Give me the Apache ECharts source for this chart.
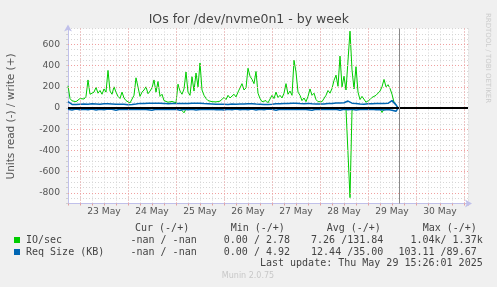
<!DOCTYPE html>
<html><head><meta charset="utf-8">
<script src="https://cdn.jsdelivr.net/npm/echarts@6/dist/echarts.min.js"></script>
<style>html,body{margin:0;padding:0;background:#f0f0f0;}#c{width:497px;height:287px;}</style>
</head><body><div id="c"></div>
<script>
// time axis: hours relative to 23 May 00:00
const startHour = -6;
const stepHours = 1;
const nowHour = 159.43;
const dayTicks = [0, 24, 48, 72, 96, 120, 144, 168, 192];
const dayLabels = ['23 May', '24 May', '25 May', '26 May', '27 May', '28 May', '29 May', '30 May'];
const yMajorTicks = [-800, -600, -400, -200, 0, 200, 400, 600];

// IO/sec write (+)
const ioWrite = [210,90,68,72,60,48,90,100,85,110,
 265,130,115,150,195,140,165,130,180,150,
 355,160,130,200,150,110,90,150,95,70,
 55,48,52,120,285,280,110,150,170,200,
 135,160,190,265,150,250,110,130,70,60,
 55,58,62,55,50,225,160,130,180,340,
 150,120,295,160,330,200,425,170,120,90,
 70,55,60,50,58,75,65,60,100,80,
 120,95,110,130,105,150,165,230,170,190,
 375,300,270,230,345,140,90,60,55,70,
 50,60,120,90,150,100,120,95,140,230,
 130,160,120,450,340,150,120,70,95,60,
 110,180,120,140,80,60,50,60,45,120,
 165,140,185,260,310,205,490,200,300,170,
 180,725,360,180,390,150,80,110,95,55,
 45,80,100,95,120,130,160,200,270,200,
 220,185,130,55,40,5];
// IO/sec read (-)
const ioRead = [-3,-2,-4,-3,-2,-5,-3,-4,-2,-3,
 -5,-3,-2,-4,-3,-2,-3,-5,-4,-3,
 -2,-4,-5,-3,-2,-3,-2,-4,-6,-3,
 -5,-3,-4,-6,-3,-2,-3,-2,-4,-3,
 -2,-3,-4,-3,-5,-6,-4,-3,-2,-3,
 -2,-3,-4,-3,-5,-4,-3,-6,-45,-8,
 -2,-3,-4,-2,-3,-4,-5,-6,-8,-4,
 -3,-2,-3,-4,-2,-3,-5,-3,-2,-4,
 -3,-5,-4,-3,-2,-3,-4,-6,-3,-2,
 -4,-3,-5,-3,-2,-4,-3,-2,-3,-5,
 -3,-4,-2,-3,-5,-3,-4,-2,-3,-4,
 -2,-3,-4,-6,-3,-2,-4,-3,-2,-3,
 -4,-3,-2,-5,-3,-2,-3,-4,-3,-2,
 -3,-4,-5,-3,-6,-4,-8,-5,-6,-10,
 -15,-845,-20,-6,-4,-3,-2,-3,-4,-3,
 -2,-3,-4,-3,-5,-4,-8,-42,-10,-5,
 -4,-3,-5,-6,-4,-2];
// Req Size (KB) write (+)
const reqWrite = [60,42,34,32,33,35,36,34,37,38,
 36,38,40,37,39,38,36,40,41,38,
 40,42,39,37,36,38,35,34,36,33,
 32,34,33,36,38,42,44,45,43,44,
 46,44,45,47,46,44,45,43,44,42,
 40,41,43,42,44,45,43,46,44,45,
 44,46,45,47,46,44,45,43,42,41,
 40,39,38,37,36,38,35,34,36,33,
 34,36,38,37,35,36,38,40,39,41,
 40,42,41,39,38,37,36,34,33,32,
 34,33,36,38,40,42,41,43,44,42,
 44,46,45,47,45,44,42,43,41,42,
 44,42,40,41,38,36,37,35,38,40,
 42,44,43,45,47,44,48,46,50,60,
 66,52,46,44,42,40,38,37,36,38,
 40,42,41,43,42,44,43,42,44,43,
 45,44,70,60,30,2];
// Req Size (KB) read (-)
const reqRead = [-12,-14,-18,-12,-10,-14,-16,-12,-11,-13,
 -15,-12,-10,-14,-18,-12,-11,-13,-16,-12,
 -10,-14,-12,-15,-20,-12,-11,-13,-14,-16,
 -12,-10,-14,-12,-13,-18,-14,-12,-11,-13,
 -15,-12,-20,-14,-12,-16,-13,-11,-12,-18,
 -14,-12,-13,-15,-12,-11,-20,-14,-12,-13,
 -16,-12,-11,-14,-18,-12,-13,-15,-12,-22,
 -14,-12,-11,-13,-16,-12,-14,-12,-18,-13,
 -12,-14,-17,-12,-10,-14,-16,-12,-11,-13,
 -15,-12,-10,-14,-19,-12,-11,-13,-16,-12,
 -10,-14,-12,-15,-20,-12,-11,-13,-14,-16,
 -12,-10,-14,-12,-13,-18,-14,-12,-11,-13,
 -15,-12,-21,-14,-12,-16,-13,-11,-12,-18,
 -14,-12,-13,-15,-12,-11,-20,-14,-12,-13,
 -16,-12,-11,-14,-18,-12,-13,-15,-12,-22,
 -14,-12,-11,-13,-16,-12,-14,-12,-18,-13,
 -14,-16,-20,-25,-30,-3];

const legendRows = [
  {name: 'IO/sec', color: '#00cc00', cur: '-nan / -nan', min: '0.00 / 2.78', avg: '7.26 /131.84', max: '1.04k/ 1.37k'},
  {name: 'Req Size (KB)', color: '#0066b3', cur: '-nan / -nan', min: '0.00 / 4.92', avg: '12.44 /35.00', max: '103.11 /89.67'}
];
const headers = ['Cur (-/+)', 'Min (-/+)', 'Avg (-/+)', 'Max (-/+)'];

function toXY(arr) { return arr.map((v, i) => [startHour + i * stepHours, v]); }

const mono = '10px "DejaVu Sans Mono"';
const txtCol = '#444';
const graphics = [];
function txt(x, y, s, align, font, fill, rot) {
  graphics.push({type: 'text', x: x, y: y, rotation: rot || 0, silent: true,
    style: {text: s, font: font || mono, fill: fill || txtCol, align: align || 'left', verticalAlign: 'middle'}});
}
const hdrX = [135, 230.7, 326.7, 422.7];
headers.forEach((h, i) => txt(hdrX[i], 228, h));
const rowY = [240, 252];
const maxRight = [482.7, 476.7];
legendRows.forEach((r, i) => {
  graphics.push({type: 'rect', shape: {x: 14, y: rowY[i] - 3, width: 6, height: 6}, style: {fill: r.color}, silent: true});
  txt(26, rowY[i], r.name);
  txt(196.7, rowY[i], r.cur, 'right');
  txt(290, rowY[i], r.min, 'right');
  txt(383.3, rowY[i], r.avg, 'right');
  txt(maxRight[i], rowY[i], r.max, 'right');
});
txt(482.7, 263.5, 'Last update: Thu May 29 15:26:01 2025', 'right');
txt(248, 276, 'Munin 2.0.75', 'center', '8px "DejaVu Sans"', '#c8c8c8');
txt(248.8, 19.5, 'IOs for /dev/nvme0n1 - by week', 'center', '12.5px "DejaVu Sans"', '#444');
txt(11, 116.5, 'Units read (-) / write (+)', 'center', '10.5px "DejaVu Sans"', '#555', Math.PI / 2);
txt(488, 58, 'RRDTOOL / TOBI OETIKER', 'center', '7px "DejaVu Sans"', '#cccccc', -Math.PI / 2);

const chart = echarts.init(document.getElementById('c'), null, {renderer: 'canvas'});
chart.setOption({
  animation: false,
  backgroundColor: '#f0f0f0',
  grid: {left: 68, right: 29, top: 28.5, bottom: 83.5, show: true, backgroundColor: '#ffffff', borderWidth: 0},
  xAxis: {
    type: 'value', min: -6, max: 194, interval: 6,
    axisLine: {show: true, onZero: false, lineStyle: {color: '#c0c0ea', width: 1}, symbol: ['none', 'arrow'], symbolSize: [6, 7], symbolOffset: [0, 4]},
    axisTick: {show: true, length: 2, lineStyle: {color: '#e0a0a0'}},
    splitLine: {show: true, lineStyle: {color: '#d6d6d6', type: [1, 2], width: 1}},
    axisLabel: {
      interval: 0, margin: 4, color: '#555', fontSize: 9.2, fontFamily: 'DejaVu Sans',
      formatter: v => { const d = (v - 12) / 24; return (Number.isInteger(d) && dayLabels[d]) ? dayLabels[d] : ''; }
    }
  },
  yAxis: {
    type: 'value', min: -900, max: 750, interval: 50,
    axisLine: {show: true, onZero: false, lineStyle: {color: '#c0c0ea', width: 1}, symbol: ['none', 'arrow'], symbolSize: [6, 7], symbolOffset: [0, 4]},
    axisTick: {show: true, length: 2, lineStyle: {color: '#d0d0d0'}},
    splitLine: {show: true, lineStyle: {color: '#d6d6d6', type: [1, 2], width: 1}},
    axisLabel: {
      interval: 0, margin: 8, color: '#555', fontSize: 9.2, fontFamily: 'DejaVu Sans',
      formatter: v => (yMajorTicks.indexOf(v) >= 0 ? String(v) : '')
    }
  },
  graphic: graphics,
  series: [
    {type: 'line', data: [], z: 1, silent: true,
      markLine: {silent: true, symbol: 'none', label: {show: false}, animation: false,
        lineStyle: {color: '#f0a0a0', type: [1, 2], width: 1},
        data: dayTicks.map(d => ({xAxis: d})).concat(yMajorTicks.map(v => ({yAxis: v})))}},
    {type: 'line', data: toXY(ioWrite), z: 3, symbol: 'none', lineStyle: {color: '#00cc00', width: 1}, silent: true},
    {type: 'line', data: toXY(ioRead), z: 3, symbol: 'none', lineStyle: {color: '#00cc00', width: 1}, silent: true},
    {type: 'line', data: toXY(reqWrite), z: 4, symbol: 'none', lineStyle: {color: '#0066b3', width: 1.5}, silent: true},
    {type: 'line', data: toXY(reqRead), z: 4, symbol: 'none', lineStyle: {color: '#0066b3', width: 1.5}, silent: true},
    {type: 'line', data: [], z: 5, silent: true,
      markLine: {silent: true, symbol: 'none', label: {show: false}, animation: false,
        data: [
          {yAxis: 0, lineStyle: {color: '#000000', width: 2, type: 'solid'}},
          {xAxis: nowHour, lineStyle: {color: '#888888', width: 1, type: 'solid'}}
        ]}}
  ]
});
</script></body></html>
